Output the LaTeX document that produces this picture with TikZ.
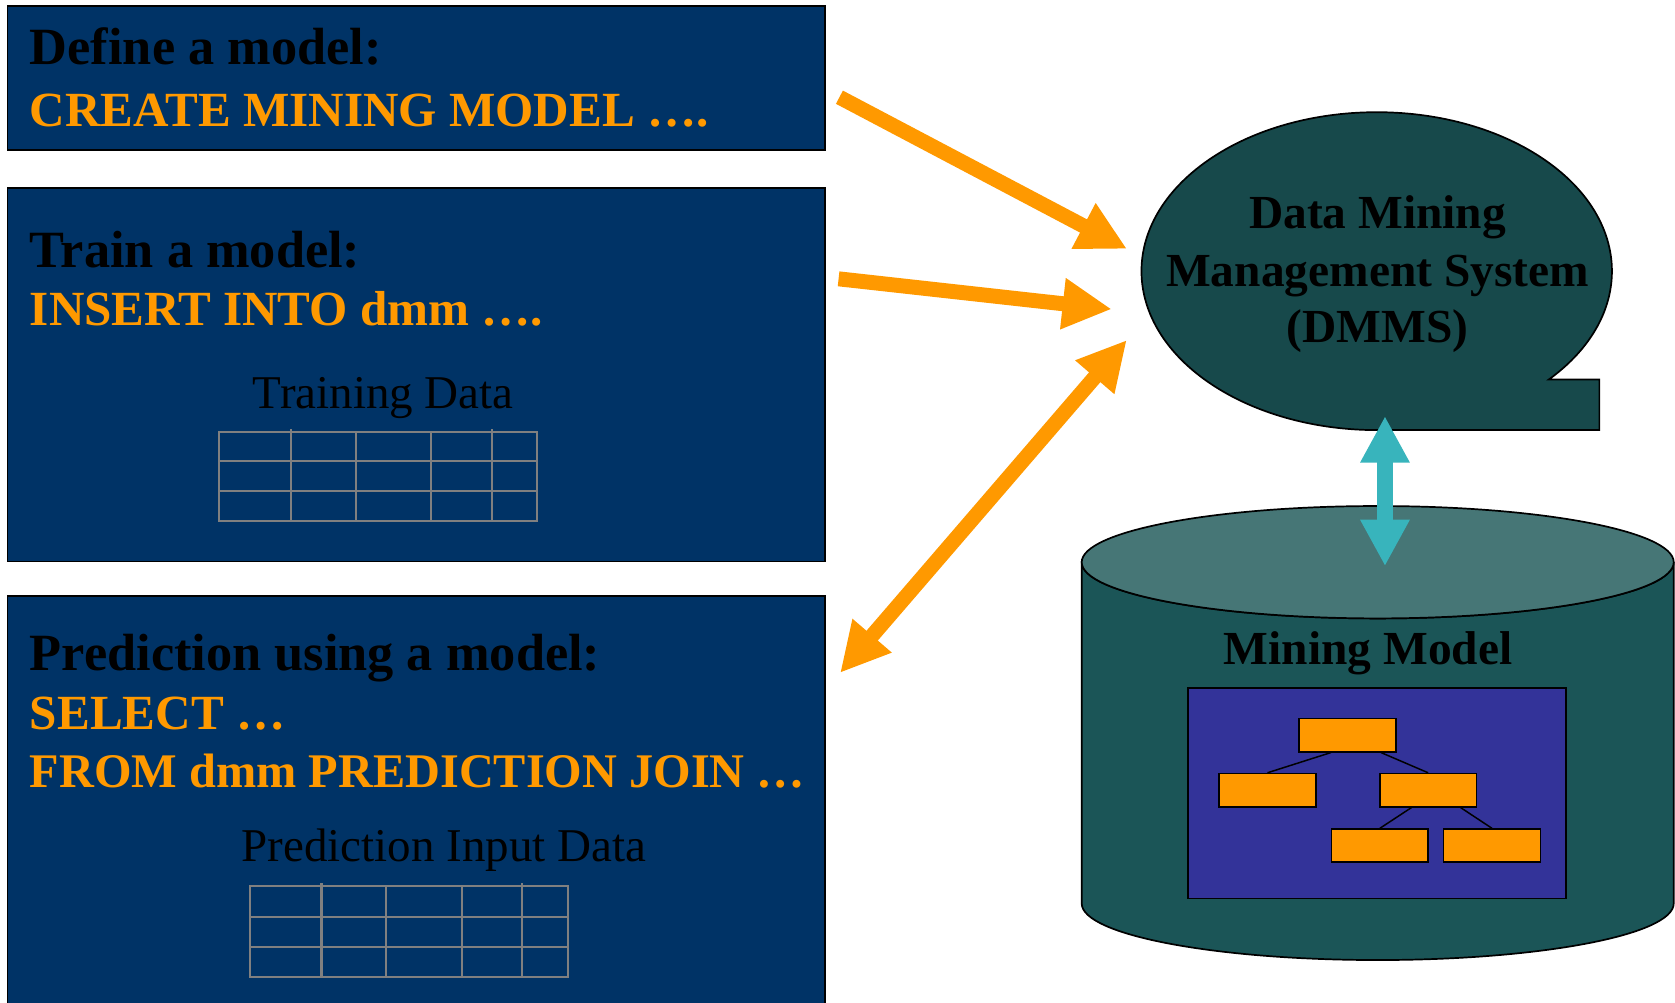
\documentclass[tikz,border=0pt]{standalone}
\usepackage{fontspec}
\setmainfont{Liberation Serif}
\usetikzlibrary{arrows.meta,calc}

\definecolor{navy}{HTML}{003366}
\definecolor{amber}{HTML}{FF9900}
\definecolor{dmmsfill}{HTML}{17494B}
\definecolor{cylbody}{HTML}{1B5557}
\definecolor{cyltop}{HTML}{467676}
\definecolor{modelfill}{HTML}{333399}
\definecolor{linkteal}{HTML}{38B4BC}
\definecolor{gridgray}{HTML}{808080}

\tikzset{
  panel/.style={draw=black, line width=0.8pt, fill=navy},
  heading/.style={anchor=base west, inner sep=0pt,
    font=\fontsize{24.5}{27}\selectfont\bfseries, text=black},
  sqltext/.style={anchor=base west, inner sep=0pt,
    font=\fontsize{23}{27}\selectfont\bfseries, text=amber},
  datalabel/.style={anchor=base, inner sep=0pt,
    font=\fontsize{22}{26}\selectfont, text=black},
  boldlabel/.style={anchor=base, inner sep=0pt,
    font=\fontsize{22.2}{26}\selectfont\bfseries, text=black},
  gridline/.style={draw=gridgray, line width=1pt},
  orangetip/.tip={Triangle[length=23pt,width=22.5pt]},
  tealtip/.tip={Triangle[length=21.75pt,width=21.6pt]},
  flow/.style={draw=amber, line width=7pt, -orangetip},
  flowboth/.style={draw=amber, line width=7pt, orangetip-orangetip},
  dblink/.style={draw=linkteal, line width=7.9pt, tealtip-tealtip},
  leaf/.style={draw=black, line width=0.8pt, fill=amber, minimum width=45.3pt,
    minimum height=15.5pt, inner sep=0pt, anchor=north west},
  branch/.style={draw=black, line width=0.7pt},
}

\begin{document}
\begin{tikzpicture}[x=0.5pt, y=-0.5pt]
\useasboundingbox (0,0) rectangle (1568,938);
\clip (0,0) rectangle (1568,938);

% ---------- left panels ----------
\path[panel] (7,5.6) rectangle (772.3,140.4);
\path[panel] (7,176.3) rectangle (772.3,525.5);
\path[panel] (7,557.7) rectangle (772.3,960);

\node[heading] (defhead) at (27.6,60.8) {Define a model:};
\node[sqltext] (defsql) at (27.6,118) {CREATE MINING MODEL ….};

\node[heading] (trainhead) at (27.6,250) {Train a model:};
\node[sqltext] (trainsql) at (27.6,305) {INSERT INTO dmm ….};
\node[datalabel] (traindata) at (358.8,382.3) {Training Data};

% training data table
\draw[gridline] (205.3,404.1) rectangle (503,487.4);
\foreach \yy in {431.9,459.7} \draw[gridline] (205.3,\yy) -- (503,\yy);
\foreach \xx in {333,403.5} \draw[gridline] (\xx,404.1) -- (\xx,487.4);
\foreach \xx in {272.4,460.6} \draw[gridline] (\xx,401.6) -- (\xx,487.4);

\node[heading] (predhead) at (27.6,627.2) {Prediction using a model:};
\node[sqltext] (predsqlA) at (27.6,682.5) {SELECT …};
\node[sqltext, font=\fontsize{22.6}{27}\selectfont\bfseries] (predsqlB) at (27.6,737) {FROM dmm PREDICTION JOIN …};
\node[datalabel] (preddata) at (415.7,806.7) {Prediction Input Data};

% prediction input table
\draw[gridline] (234.2,829.1) rectangle (531.5,914.9);
\foreach \yy in {858.5,886.2} \draw[gridline] (234.2,\yy) -- (531.5,\yy);
\foreach \xx in {361,432.2} \draw[gridline] (\xx,829.1) -- (\xx,914.9);
\foreach \xx in {300.9,488.9} \draw[gridline] (\xx,827) -- (\xx,914.9);

% ---------- DMMS callout ----------
\draw[fill=dmmsfill, line width=0.8pt]
  (1449.8,355.3) arc[start angle=43, end angle=-270, x radius=220.2, y radius=148.8]
  -- (1497.2,402.6) -- (1497.2,355.3) -- cycle;
\node[boldlabel] (dmmsA) at (1289.6,213.8) {Data Mining};
\node[boldlabel] (dmmsB) at (1289.6,268.4) {Management System};
\node[boldlabel] (dmmsC) at (1289.6,320.8) {(DMMS)};

% ---------- mining model store ----------
\draw[fill=cylbody, line width=0.8pt]
  (1012.6,526.3) -- (1012.6,845.7)
  arc[start angle=180, end angle=0, x radius=277.1, y radius=53]
  -- (1566.8,526.3)
  arc[start angle=0, end angle=180, x radius=277.1, y radius=52.6] -- cycle;
\draw[fill=cyltop, line width=0.8pt] (1289.7,526.3) ellipse[x radius=277.1, y radius=52.6];

\node[boldlabel] (mmlabel) at (1280.7,621.6) {Mining Model};
\node[draw=black, line width=0.8pt, fill=modelfill, minimum width=176.9pt,
      minimum height=98.6pt, inner sep=0pt] (modelbox) at (1289.1,742.4) {};

% decision tree
\node[leaf] (troot) at (1215.4,671.9) {};
\node[leaf] (tleft) at (1140.4,723.4) {};
\node[leaf] (tright) at (1290.8,723.4) {};
\node[leaf] (trl) at (1245.6,775.4) {};
\node[leaf] (trr) at (1350.6,775.4) {};
\draw[branch] ($(troot.south west)!0.33!(troot.south east)$) -- (tleft.north);
\draw[branch] ($(troot.south west)!0.84!(troot.south east)$) -- (tright.north);
\draw[branch] ($(tright.south west)!0.33!(tright.south east)$) -- (trl.north);
\draw[branch] ($(tright.south west)!0.83!(tright.south east)$) -- (trr.north);

% ---------- connectors ----------
\coordinate (defout) at (785.8,91);
\coordinate (defin) at (1055,233);
\coordinate (trainout) at (785,261);
\coordinate (trainin) at (1040.7,289.4);
\coordinate (predend) at (786.4,629.9);
\coordinate (dmmsend) at (1054.8,318.3);
\coordinate (dmmsbottom) at (1296.5,389.5);
\coordinate (storetop) at (1296.5,530);

\draw[flow] (defout) -- (defin);
\draw[flow] (trainout) -- (trainin);
\draw[flowboth] (predend) -- (dmmsend);
\draw[dblink] (dmmsbottom) -- (storetop);
\end{tikzpicture}
\end{document}
